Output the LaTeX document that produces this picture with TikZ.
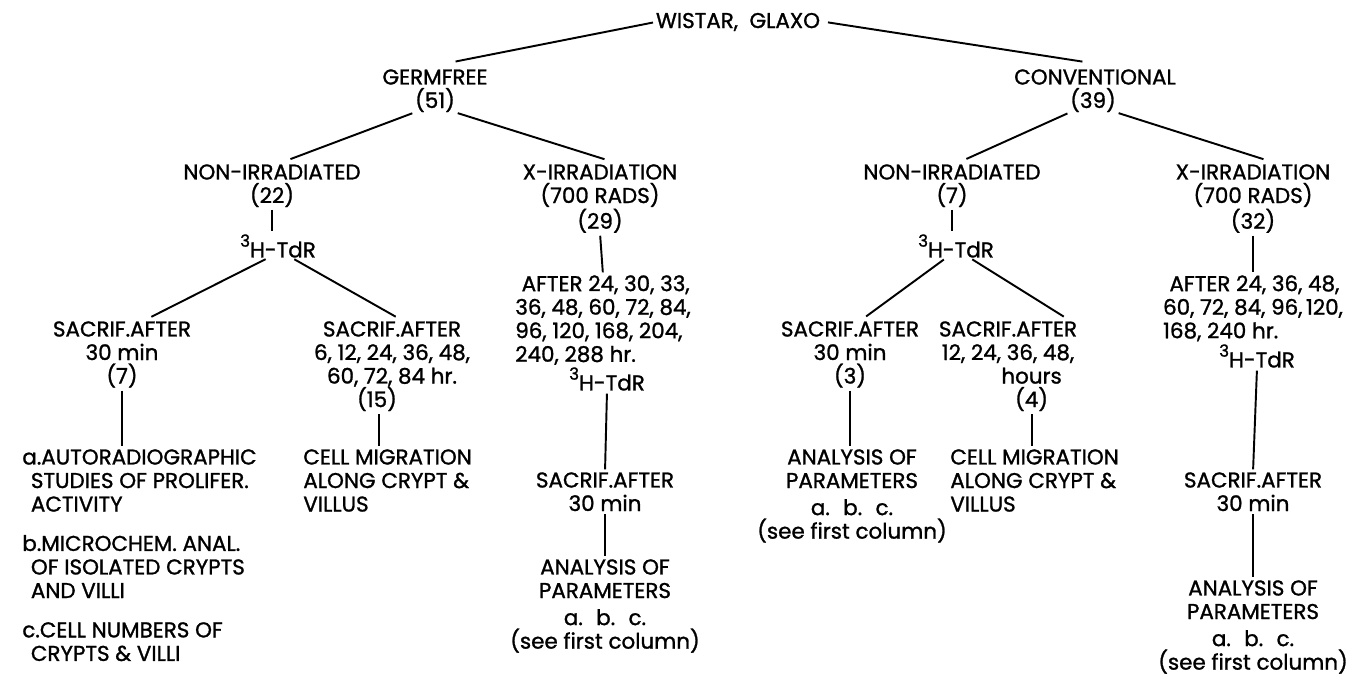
\documentclass[tikz,border=0pt]{standalone}
\usepackage{fontspec}
\setmainfont{Poppins}[FakeBold=1.2]
\usetikzlibrary{calc}

\newcommand{\htdr}{\raisebox{.5em}{\fontsize{9.5}{9.5}\selectfont 3}H-TdR}

\begin{document}
\begin{tikzpicture}[
  x=0.02cm, y=-0.02cm,
  every node/.style={font=\fontsize{12.2}{13.4}\selectfont, align=center, inner sep=0pt},
  link/.style={draw, line width=1.1pt, shorten <=1.5pt, shorten >=1.5pt}
]
\useasboundingbox (0,0) rectangle (1355,679);

\node (root) at (738,22) {WISTAR,~ GLAXO};
\node (gf) at (435,77) {GERMFREE};
\node (gfn) at (435,100) {(51)};
\node (cv) at (1095,77) {CONVENTIONAL};
\node (cvn) at (1093,100) {(39)};

\node (gni) at (272,172) {NON-IRRADIATED};
\node (gnin) at (272,195) {(22)};
\node[anchor=north] (gxi) at (600,164) {X-IRRADIATION\\(700 RADS)\\(29)};
\node (cni) at (952,172) {NON-IRRADIATED};
\node (cnin) at (952,195) {(7)};
\node[anchor=north] (cxi) at (1253,164) {X-IRRADIATION\\(700 RADS)\\(32)};

\node (ght) at (278,246) {\htdr};
\node (cht) at (956,246) {\htdr};
\node[anchor=north, align=left] (gxa) at (603,275)
  {\hspace*{.3em}AFTER 24, 30, 33,\\36, 48, 60, 72, 84,\\96, 120, 168, 204,\\240, 288 hr.};
\node (gxt) at (607,379) {\htdr};
\node[anchor=north, align=left] (cxa) at (1253,275)
  {\hspace*{.3em}AFTER 24, 36, 48,\\60, 72, 84, 96,\,120,\\168, 240 hr.};
\node (cxt) at (1257,356) {\htdr};

\node[anchor=north] (gs1) at (122,321) {SACRIF.AFTER\\30 min\\(7)};
\node[anchor=north] (gs2) at (392,321) {SACRIF.AFTER\\6, 12, 24, 36, 48,\\60, 72, 84 hr.\\(15)\hspace*{1.4em}};
\node[anchor=north] (gs3) at (605,472) {SACRIF.AFTER\\30 min};
\node[anchor=north] (cs1) at (850,321) {SACRIF.AFTER\\30 min\\(3)};
\node[anchor=north] (cs2) at (1008,321) {SACRIF.AFTER\\12, 24, 36, 48,\\\hspace*{2.2em}hours\\\hspace*{2.2em}(4)};
\node[anchor=north] (cs3) at (1253,472) {SACRIF.AFTER\\30 min};

\node[anchor=north west, align=left] (gl1) at (22,449)
  {a.AUTORADIOGRAPHIC\\\hspace*{.4em}STUDIES OF PROLIFER.\\\hspace*{.4em}ACTIVITY\\[9pt]
   b.MICROCHEM. ANAL.\\\hspace*{.4em}OF ISOLATED CRYPTS\\\hspace*{.4em}AND VILLI\\[9pt]
   c.CELL NUMBERS OF\\\hspace*{.4em}CRYPTS \& VILLI};
\node[anchor=north west, align=left] (gl2) at (303,449) {CELL MIGRATION\\ALONG CRYPT \&\\VILLUS};
\node[anchor=north] (gl3) at (605,559) {ANALYSIS OF\\PARAMETERS\\[2pt]a.~ b.~ c.\\(see first column)};
\node[anchor=north] (cl1) at (852,449) {ANALYSIS OF\\PARAMETERS\\[2pt]a.~ b.~ c.\\(see first column)};
\node[anchor=north west, align=left] (cl2) at (950,449) {CELL MIGRATION\\ALONG CRYPT \&\\VILLUS};
\node[anchor=north] (cl3) at (1253,580) {ANALYSIS OF\\PARAMETERS\\[2pt]a.~ b.~ c.\\(see first column)};

% top levels
\draw[link] (root.west) -- ($(gf.north)+(18,-7)$);
\draw[link] ($(root.east)+(5,0)$) -- ($(cv.north)+(-10,-7)$);
\draw[link] (gfn.south west) -- ($(gni.north)+(16,-4)$);
\draw[link] (gfn.south east) -- ($(gxi.north)+(7,-4)$);
\draw[link] (cvn.south west) -- ($(cni.north)+(12,-4)$);
\draw[link] (cvn.south east) -- ($(cxi.north)+(13,-4)$);

% germfree branches
\draw[link] (gnin.south) -- (gnin.south |- ght.north);
\draw[link] ($(ght.south)+(-10,0)$) -- ($(gs1.north)+(27,-3)$);
\draw[link] ($(ght.south)+(14,0)$) -- ($(gs2.north)+(6,-3)$);
\draw[link] (gs1.south) -- (gs1.south |- gl1.north);
\draw[link] ($(gs2.south)+(-13,0)$) -- ($(gs2.south |- gl2.north)+(-13,0)$);
\draw[link] (gxi.south) -- (gxa.north);
\draw[link] (gxt.south) -- (gs3.north);
\draw[link] (gs3.south) -- (gl3.north);

% conventional branches
\draw[link] (cnin.south) -- (cnin.south |- cht.north);
\draw[link] ($(cht.south)+(-10,0)$) -- ($(cs1.north)+(14,-3)$);
\draw[link] ($(cht.south)+(14,0)$) -- ($(cs2.north)+(58,-3)$);
\draw[link] (cs1.south) -- (cs1.south |- cl1.north);
\draw[link] ($(cs2.south)+(24,0)$) -- ($(cs2.south |- cl2.north)+(24,0)$);
\draw[link] (cxi.south) -- (cxa.north);
\draw[link] (cxt.south) -- (cs3.north);
\draw[link] (cs3.south) -- (cl3.north);
\end{tikzpicture}
\end{document}
